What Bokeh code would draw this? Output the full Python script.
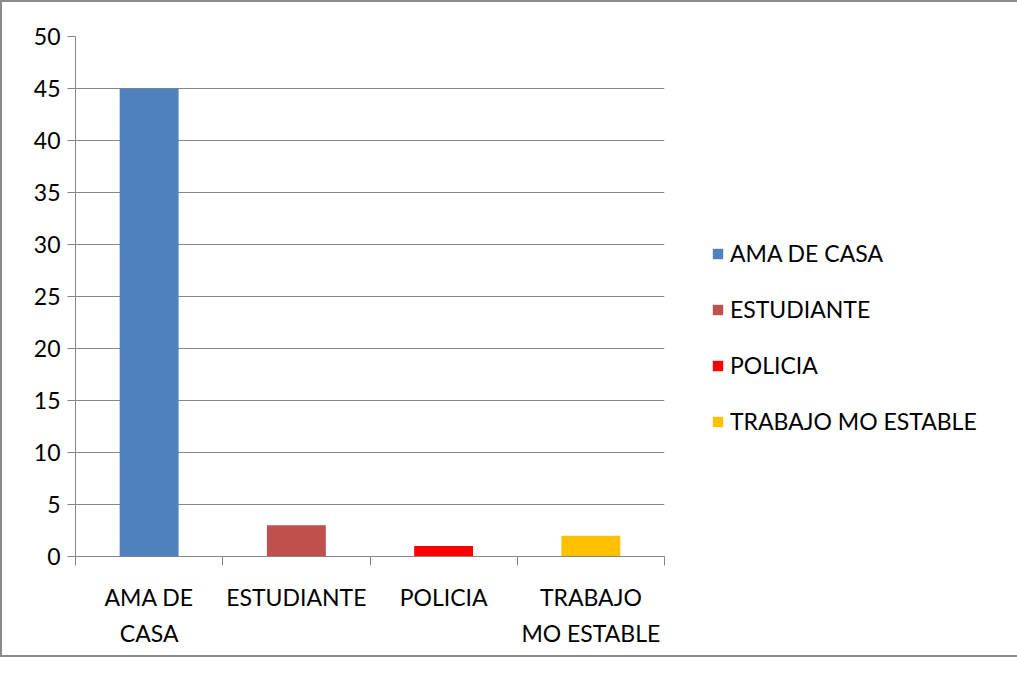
from bokeh.plotting import figure
from bokeh.models import FixedTicker, Legend, LegendItem
from bokeh.embed import file_html
from bokeh.resources import INLINE

categories = ["AMA DE CASA", "ESTUDIANTE", "POLICIA", "TRABAJO MO ESTABLE"]
tick_labels = ["AMA DE\nCASA", "ESTUDIANTE", "POLICIA", "TRABAJO\nMO ESTABLE"]
values = [45, 3, 1, 2]
colors = ["#4F81BD", "#C0504D", "#FF0000", "#FFC000"]
y_ticks = [0, 5, 10, 15, 20, 25, 30, 35, 40, 45, 50]

FONT = "Lato"
GRAY = "#868686"

p = figure(frame_width=589, frame_height=520, output_backend="svg", toolbar_location=None,
           x_range=(0, len(categories)), y_range=(0, 50),
           min_border_left=75, min_border_right=0, min_border_top=36, min_border_bottom=101)
p.styles = {"box-shadow": "inset 0 0 0 2px #8a8a8a", "background-color": "white"}
p.outline_line_color = None
p.background_fill_color = "white"
p.border_fill_color = None

xs = [i + 0.5 for i in range(len(categories))]
renderers = []
for x, v, c in zip(xs, values, colors):
    r = p.vbar(x=[x], top=[v], width=0.4, fill_color=c, line_color=None)
    renderers.append(r)

p.xgrid.grid_line_color = None
p.ygrid.grid_line_color = GRAY
p.ygrid.ticker = FixedTicker(ticks=y_ticks)

p.yaxis.ticker = FixedTicker(ticks=y_ticks)
p.yaxis.axis_line_color = GRAY
p.yaxis.major_tick_line_color = GRAY
p.yaxis.major_tick_out = 8
p.yaxis.major_tick_in = 0
p.yaxis.minor_tick_line_color = None
p.yaxis.major_label_text_font = FONT
p.yaxis.major_label_text_font_size = "23px"
p.yaxis.major_label_text_color = "#000000"
p.yaxis.major_label_standoff = 7

p.xaxis.ticker = FixedTicker(ticks=xs, minor_ticks=list(range(len(categories) + 1)))
p.xaxis.major_label_overrides = {x: lab for x, lab in zip(xs, tick_labels)}
p.xaxis.axis_line_color = GRAY
p.xaxis.major_tick_line_color = None
p.xaxis.minor_tick_line_color = GRAY
p.xaxis.minor_tick_out = 9
p.xaxis.minor_tick_in = 0
p.xaxis.major_label_text_font = FONT
p.xaxis.major_label_text_font_size = "23px"
p.xaxis.major_label_text_color = "#000000"
p.xaxis.major_label_standoff = 17
p.xaxis.major_label_text_line_height = 1.3

items = [LegendItem(label=cat, renderers=[r]) for cat, r in zip(categories, renderers)]
legend = Legend(items=items, location=(47, 121), orientation="vertical",
                glyph_width=13, glyph_height=13, spacing=28, padding=0, margin=0,
                label_text_font=FONT, label_text_font_size="23px", label_text_color="#000000",
                label_standoff=6, border_line_color=None, background_fill_alpha=0)
p.add_layout(legend, "right")

open("out.html", "w").write(file_html(p, INLINE))
